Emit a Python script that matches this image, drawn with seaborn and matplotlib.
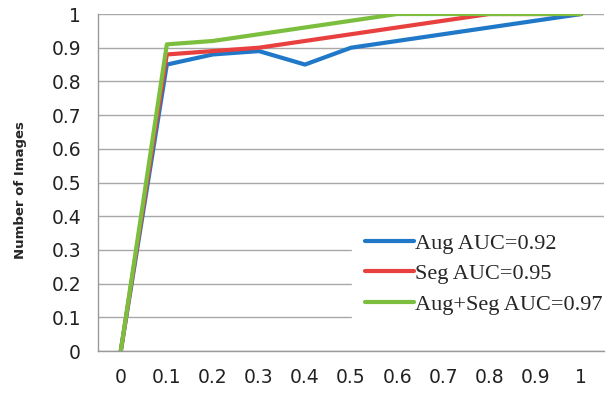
import numpy as np
import pandas as pd
import matplotlib
matplotlib.use("Agg")
import matplotlib.pyplot as plt
import seaborn as sns

categories = ["0", "0.1", "0.2", "0.3", "0.4", "0.5", "0.6", "0.7", "0.8", "0.9", "1"]
aug = [0, 0.85, 0.88, 0.89, 0.85, 0.90, 0.92, 0.94, 0.96, 0.98, 1.0]
seg = [0, 0.88, 0.89, 0.90, 0.92, 0.94, 0.96, 0.98, 1.0, 1.0, 1.0]
augseg = [0, 0.91, 0.92, 0.94, 0.96, 0.98, 1.0, 1.0, 1.0, 1.0, 1.0]
series_names = ["Aug AUC=0.92", "Seg AUC=0.95", "Aug+Seg AUC=0.97"]
colors = ["#1f78c8", "#e8403f", "#7cbf3f"]
y_ticks = [0, 0.1, 0.2, 0.3, 0.4, 0.5, 0.6, 0.7, 0.8, 0.9, 1]
y_ticklabels = ["0", "0.1", "0.2", "0.3", "0.4", "0.5", "0.6", "0.7", "0.8", "0.9", "1"]

sns.set_style("white")
plt.rcParams["font.family"] = ["DejaVu Sans"]

rows = []
for name, vals in zip(series_names, [aug, seg, augseg]):
    for c, v in zip(categories, vals):
        rows.append({"x": c, "y": v, "series": name})
df = pd.DataFrame(rows)

fig = plt.figure(figsize=(6.11, 3.96), dpi=100)
ax = fig.add_axes([0.160, 0.1136, 0.829, 0.851])

sns.lineplot(data=df, x="x", y="y", hue="series", palette=colors,
             hue_order=series_names, linewidth=3, ax=ax, sort=False)

n = len(categories)
ax.set_xlim(-0.5, n - 0.5)
ax.set_ylim(0, 1)
ax.set_yticks(y_ticks)
ax.set_yticklabels(y_ticklabels, fontsize=13.5, color="#222222")
ax.set_xticks(range(n))
ax.set_xticklabels(categories, fontsize=13.5, color="#222222")
ax.set_xticks(np.arange(-0.5, n, 1.0), minor=True)
ax.tick_params(axis="x", which="major", length=0, pad=12)
ax.tick_params(axis="x", which="minor", length=6, color="#999999", width=1)
ax.tick_params(axis="y", which="major", length=6, color="#999999", width=1, pad=6)
ax.grid(axis="y", color="#a8a8a8", linewidth=1)
ax.set_axisbelow(True)
for s in ["top", "right"]:
    ax.spines[s].set_visible(False)
for s in ["left", "bottom"]:
    ax.spines[s].set_color("#999999")
    ax.spines[s].set_linewidth(1)

ax.set_xlabel("")
ax.set_ylabel("Number of Images", fontsize=9.5, fontweight="bold")
ax.yaxis.set_label_coords(-0.14, 0.478)

leg = ax.legend(loc="lower right", bbox_to_anchor=(1.045, 0.035), frameon=True,
                fancybox=False, edgecolor="white", framealpha=1,
                prop={"family": "Liberation Serif", "size": 16},
                handlelength=2.2, handletextpad=0.05, labelspacing=0.45,
                borderpad=0.6)
for line in leg.get_lines():
    line.set_linewidth(3)

fig.savefig("out.png", dpi=100)
